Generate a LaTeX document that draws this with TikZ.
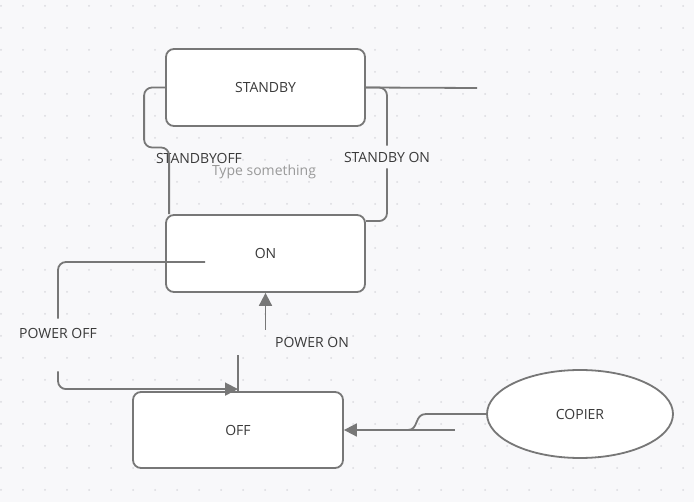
\documentclass[tikz,border=0pt]{standalone}
\usepackage{fontspec}
\setmainfont{Open Sans}
\usetikzlibrary{arrows.meta, positioning, shapes}
\definecolor{bgcol}{HTML}{F8F8FA}
\definecolor{dotcol}{HTML}{DADADF}
\definecolor{linegray}{HTML}{777777}
\definecolor{textgray}{HTML}{3A3A3A}

\begin{document}
\begin{tikzpicture}[x=1pt, y=-1pt, font=\fontsize{14}{16}\selectfont, text=textgray,
    state/.style={draw=linegray, line width=1.8pt, fill=white, rounded corners=8pt, minimum width=199pt, minimum height=77pt},
    wire/.style={draw=linegray, line width=1.8pt, rounded corners=8pt},
    tip/.style={-{Triangle[length=13pt,width=13pt]}},
    lbl/.style={inner ysep=9pt}]
        % Background with dots
        \useasboundingbox (0,0) rectangle (694,502);
        \fill[bgcol] (0,0) rectangle (694,502);
        \foreach \i in {0,...,31}
          \foreach \j in {0,...,22}
            \fill[dotcol] (1+22*\i, 6+22*\j) circle (1pt);

        % States
        \node[state] (standby) at (265.5,87.5) {STANDBY};
        \node[state] (on) at (265.5,253.5) {ON};
        \node[state, minimum width=210pt, minimum height=76pt] (off) at (238,430) {OFF};
        \node[draw=linegray, line width=1.8pt, fill=white, ellipse, minimum width=186pt, minimum height=88pt] (copier) at (580,414) {COPIER};

        % Labels
        \node (lsboff) at (199,158) {STANDBYOFF};
        \node[text=gray!80] (ltype) at (264,172) {Type something};
        \node[lbl, inner ysep=6pt] (lsbon) at (387,157) {STANDBY ON};
        \node[lbl] (lpoff) at (58,333) {POWER OFF};
        \node (lpon) at (312,342) {POWER ON};

        % Free ends
        \coordinate (sbend) at (477,88);
        \coordinate (poffstart) at (205,262);
        \coordinate (ponstart) at (265.5,330);
        \coordinate (ponlow) at (238,355);
        \coordinate (cpend) at (455,430);
        \coordinate (cpbend) at (408,430);

        % Connections
        \draw[wire] (standby.east) -- (sbend);
        \draw[wire] ([yshift=-7pt]on.north east) -| (lsbon.south);
        \draw[wire] (lsbon.north) |- (standby.east);
        \draw[wire] (standby.west) -- ++(-21,0) -- ++(0,60) -| ([xshift=4pt]on.north west);
        \draw[wire] (poffstart) -| (lpoff.north);
        \draw[wire, tip] ([yshift=-24pt]lpoff.south) |- ([yshift=2pt]off.north);
        \draw[wire, tip] (ponstart) -- (on.south);
        \draw[wire] (off.north) -- (ponlow);
        \draw[wire, tip, rounded corners=0pt] (copier.west) -- (426,414) .. controls (414,414) and (419,430) .. (cpbend) -- (off.east);
        \draw[wire] (cpbend) -- (cpend);
\end{tikzpicture}
\end{document}
